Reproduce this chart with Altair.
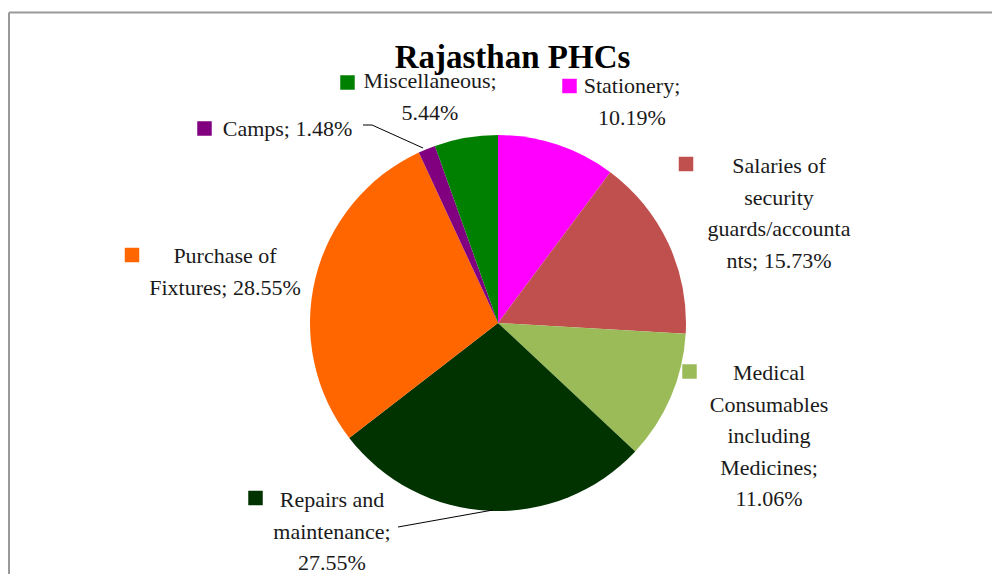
import altair as alt
import pandas as pd

# ---- data ----
categories = [
    "Stationery",
    "Salaries of security guards/accountants",
    "Medical Consumables including Medicines",
    "Repairs and maintenance",
    "Purchase of Fixtures",
    "Camps",
    "Miscellaneous",
]
shares = [10.19, 15.73, 11.06, 27.55, 28.55, 1.48, 5.44]
label_lines = [
    ["Stationery;", "10.19%"],
    ["Salaries of", "security", "guards/accounta", "nts; 15.73%"],
    ["Medical", "Consumables", "including", "Medicines;", "11.06%"],
    ["Repairs and", "maintenance;", "27.55%"],
    ["Purchase of", "Fixtures; 28.55%"],
    ["Camps; 1.48%"],
    ["Miscellaneous;", "5.44%"],
]
title_text = "Rajasthan PHCs"

# ---- styles / layout (chart pixel coordinates) ----
colors = ["#FF00FF", "#C0504D", "#9BBB59", "#003300", "#FF6600", "#800080", "#008000"]
W, H = 984, 566
CX, CY, R = 490, 315, 188
FONT = "Liberation Serif"
label_xy = [(624, 85), (771, 165), (761, 372), (324, 499), (217, 255), (279.5, 128), (422, 80)]
key_xy = [(561.5, 78), (678, 156), (681.5, 363.5), (247.5, 490), (124, 247), (196.5, 120.5), (339.5, 74.5)]
leaders = [
    [(355, 117), (364, 117), (415, 140)],   # Camps
    [(390, 519), (485, 502)],               # Repairs
]

pie_df = pd.DataFrame({"category": categories, "share": shares, "order": range(len(categories))})
color_scale = alt.Scale(domain=categories, range=colors)

pie = alt.Chart(pie_df).mark_arc(outerRadius=R).encode(
    theta=alt.Theta("share:Q", stack=True),
    color=alt.Color("category:N", scale=color_scale, legend=None),
    order=alt.Order("order:Q"),
    x=alt.value(CX),
    y=alt.value(CY),
)

lab_df = pd.DataFrame({
    "category": categories,
    "text": ["\n".join(l) for l in label_lines],
    "lx": [p[0] for p in label_xy],
    "ly": [p[1] for p in label_xy],
    "kx": [p[0] for p in key_xy],
    "ky": [p[1] for p in key_xy],
})

labels = alt.Chart(lab_df).mark_text(
    align="center", baseline="alphabetic", lineBreak="\n", lineHeight=31.5,
    font=FONT, fontSize=22, color="#1a1a1a",
).encode(
    x=alt.X("lx:Q", scale=None, axis=None),
    y=alt.Y("ly:Q", scale=None, axis=None),
    text="text:N",
)

keys = alt.Chart(lab_df).mark_square(size=210, opacity=1, filled=True).encode(
    x=alt.X("kx:Q", scale=None, axis=None),
    y=alt.Y("ky:Q", scale=None, axis=None),
    color=alt.Color("category:N", scale=color_scale, legend=None),
)

rows = []
for g, pts in enumerate(leaders):
    for i, (px, py) in enumerate(pts):
        rows.append({"g": g, "i": i, "px": px, "py": py})
lead_df = pd.DataFrame(rows)
lead = alt.Chart(lead_df).mark_line(color="#000000", strokeWidth=1).encode(
    x=alt.X("px:Q", scale=None, axis=None),
    y=alt.Y("py:Q", scale=None, axis=None),
    detail="g:N",
    order="i:Q",
)

title = alt.Chart(pd.DataFrame({"t": [title_text]})).mark_text(
    align="center", baseline="alphabetic", font=FONT, fontSize=33, fontWeight="bold", color="#000000",
).encode(x=alt.value(504.5), y=alt.value(60), text="t:N")

border_top = alt.Chart(pd.DataFrame({"a": [0]})).mark_rule(color="#999999", strokeWidth=2).encode(
    x=alt.value(1), x2=alt.value(W), y=alt.value(4.5), y2=alt.value(4.5)
)
border_left = alt.Chart(pd.DataFrame({"a": [0]})).mark_rule(color="#999999", strokeWidth=2).encode(
    x=alt.value(1), x2=alt.value(1), y=alt.value(4.5), y2=alt.value(H)
)

chart = alt.layer(border_top, border_left, pie, lead, keys, labels, title).properties(
    width=W, height=H, padding=0, autosize="none"
).configure_view(stroke=None)

chart.save("out.html", embed_options={"renderer": "svg", "actions": False})
